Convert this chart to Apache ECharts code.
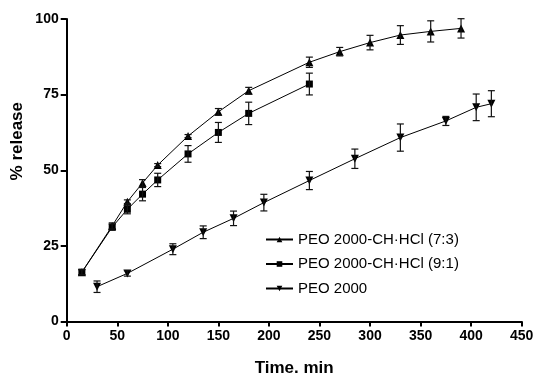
<!DOCTYPE html>
<html><head><meta charset="utf-8">
<script src="https://cdn.jsdelivr.net/npm/echarts@6/dist/echarts.min.js"></script>
<style>html,body{margin:0;padding:0;background:#fff}#c{width:535px;height:373px}</style>
</head><body><div id="c"></div>
<script>
var xTicks = [0, 50, 100, 150, 200, 250, 300, 350, 400, 450];
var yTicks = [0, 25, 50, 75, 100];

var names = ['PEO 2000-CH\u00B7HCl (7:3)', 'PEO 2000-CH\u00B7HCl (9:1)', 'PEO 2000'];

var timeA = [15, 45, 60, 75, 90, 120, 150, 180, 240, 270, 300, 330, 360, 390];
var relA  = [16.3, 31.6, 39.6, 45.8, 51.7, 61.3, 69.3, 76.3, 85.7, 89.2, 92.2, 94.7, 95.9, 96.9];
var errA  = [0.8, 1.0, 0.6, 1.1, 0.5, 0.5, 1.1, 1.1, 1.7, 1.4, 2.4, 3.1, 3.5, 3.2];

var timeB = [15, 45, 60, 75, 90, 120, 150, 180, 240];
var relB  = [16.3, 31.2, 37.1, 42.1, 46.8, 55.4, 62.5, 68.8, 78.5];
var errB  = [0.9, 1.0, 1.5, 2.2, 2.2, 2.75, 3.3, 3.7, 3.6];

var timeC = [30, 60, 105, 135, 165, 195, 240, 285, 330, 375, 405, 420];
var relC  = [11.5, 15.9, 23.9, 29.5, 34.1, 39.3, 46.6, 53.8, 60.8, 66.3, 70.8, 72.0];
var errC  = [1.9, 0.9, 1.8, 2.1, 2.4, 2.75, 3.0, 3.2, 4.5, 1.5, 4.4, 4.3];

var FONT = 'Liberation Sans, Arial, sans-serif';

function pts(t, v) { return t.map(function (x, i) { return [x, v[i]]; }); }
function errData(t, v, e) { return t.map(function (x, i) { return [x, v[i] - e[i], v[i] + e[i]]; }); }

function errSeries(data) {
  return {
    type: 'custom',
    silent: true,
    z: 5,
    data: data,
    renderItem: function (params, api) {
      var x = api.value(0);
      var lo = api.coord([x, api.value(1)]);
      var hi = api.coord([x, api.value(2)]);
      var w = 3.5;
      var st = { stroke: '#111', lineWidth: 1.2 };
      return {
        type: 'group',
        children: [
          { type: 'line', shape: { x1: lo[0], y1: lo[1], x2: hi[0], y2: hi[1] }, style: st },
          { type: 'line', shape: { x1: lo[0] - w, y1: lo[1], x2: lo[0] + w, y2: lo[1] }, style: st },
          { type: 'line', shape: { x1: hi[0] - w, y1: hi[1], x2: hi[0] + w, y2: hi[1] }, style: st }
        ]
      };
    }
  };
}

function lineSeries(name, data, symbol, size) {
  return {
    name: name,
    type: 'line',
    data: data,
    symbol: symbol,
    symbolSize: size,
    showSymbol: true,
    z: 4,
    lineStyle: { color: '#000', width: 1 },
    itemStyle: { color: '#000' }
  };
}

var chart = echarts.init(document.getElementById('c'), null, { renderer: 'canvas' });
chart.setOption({
  animation: false,
  backgroundColor: '#fff',
  textStyle: { fontFamily: FONT },
  grid: { left: 66.7, right: 13.3, top: 19, bottom: 51.5, containLabel: false, outerBoundsMode: 'none' },
  xAxis: {
    type: 'value', min: 0, max: 450, interval: 50,
    name: 'Time. min', nameLocation: 'middle', nameGap: 38,
    nameTextStyle: { fontFamily: FONT, fontWeight: 'bold', fontSize: 17, color: '#000' },
    axisLine: { lineStyle: { color: '#000', width: 2 } },
    axisTick: { show: true, length: 5, lineStyle: { color: '#000', width: 2 } },
    axisLabel: { fontFamily: FONT, fontWeight: 'bold', fontSize: 14, color: '#000', margin: 8,
      formatter: function (v) { return xTicks.indexOf(v) >= 0 ? String(v) : ''; } },
    splitLine: { show: false }
  },
  yAxis: {
    type: 'value', min: 0, max: 100, interval: 25,
    axisLine: { show: true, lineStyle: { color: '#000', width: 2 } },
    axisTick: { show: true, length: 6, lineStyle: { color: '#000', width: 2 } },
    axisLabel: { fontFamily: FONT, fontWeight: 'bold', fontSize: 14, color: '#000', margin: 8,
      formatter: function (v) { return yTicks.indexOf(v) >= 0 ? String(v) : ''; } },
    splitLine: { show: false }
  },
  graphic: [{
    type: 'text',
    left: 9, top: 102,
    rotation: Math.PI / 2,
    style: { text: '% release', fontFamily: FONT, fontWeight: 'bold', fontSize: 17, fill: '#000' }
  }],
  legend: {
    orient: 'vertical',
    left: 260, top: 227,
    itemWidth: 27, itemHeight: 7, itemGap: 9.5,
    textStyle: { fontFamily: FONT, fontSize: 15, color: '#000' },
    data: names
  },
  series: [
    lineSeries(names[0], pts(timeA, relA), 'triangle', 8),
    lineSeries(names[1], pts(timeB, relB), 'rect', 7),
    lineSeries(names[2], pts(timeC, relC), 'path://M0,0 L10,0 L5,9 Z', 8),
    errSeries(errData(timeA, relA, errA)),
    errSeries(errData(timeB, relB, errB)),
    errSeries(errData(timeC, relC, errC))
  ]
});
</script></body></html>
